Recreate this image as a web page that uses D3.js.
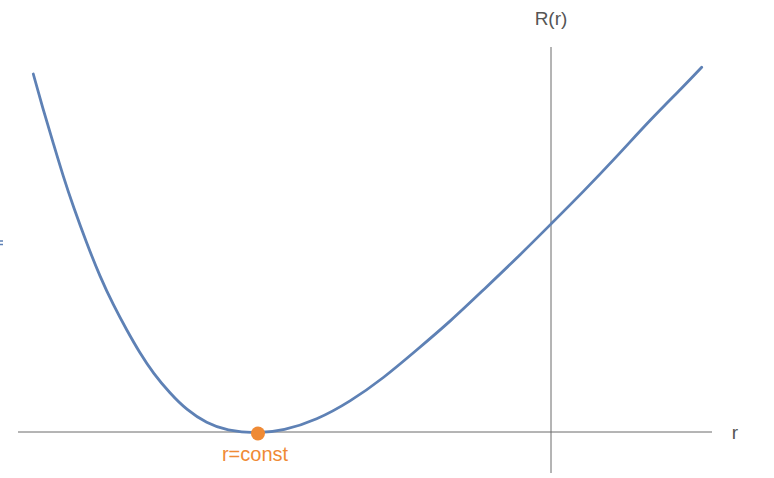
<!DOCTYPE html>
<meta charset="utf-8">
<title>R(r)</title>
<style>
  body { margin: 0; background: #fff; }
  text { font-family: "Liberation Sans", Arial, sans-serif; }
</style>
<body>
<svg width="774" height="478"></svg>
<script src="https://d3js.org/d3.v7.min.js"></script>
<script>

// curve samples (r, R)
var rVals = [-5.177, -5.077, -4.977, -4.877, -4.777, -4.643, -4.51, -4.377, -4.243, -4.11,
  -3.977, -3.81, -3.643, -3.443, -3.243, -2.94, -2.677, -2.343, -2.01, -1.677,
  -1.343, -1.01, -0.677, -0.343, 0.007, 0.323, 0.657, 0.99, 1.323, 1.507];
var RVals = [3.58, 3.22, 2.887, 2.553, 2.253, 1.887, 1.553, 1.27, 1.02, 0.787,
  0.587, 0.387, 0.22, 0.087, 0.013, -0.015, 0.013, 0.12, 0.303, 0.537,
  0.82, 1.103, 1.42, 1.737, 2.087, 2.403, 2.753, 3.12, 3.453, 3.647];

var minPoint = [-2.94, -0.015];
var xLabel = "r", yLabel = "R(r)", pointLabel = "r=const";

var svg = d3.select("svg");

var x = d3.scaleLinear().domain([-5.33, 1.61]).range([18, 712]);
var y = d3.scaleLinear().domain([-0.41, 3.85]).range([473, 47]);

var pts = rVals.map(function(d, i) { return [d, RVals[i]]; });

// axes (plain lines, no ticks)
svg.append("line")
  .attr("x1", x(-5.33)).attr("x2", x(1.61))
  .attr("y1", y(0)).attr("y2", y(0))
  .attr("stroke", "#6a6a6a").attr("stroke-width", 1);
svg.append("line")
  .attr("x1", x(0)).attr("x2", x(0))
  .attr("y1", y(-0.41)).attr("y2", y(3.85))
  .attr("stroke", "#6a6a6a").attr("stroke-width", 1);

svg.append("text")
  .attr("x", 735).attr("y", y(0) + 7)
  .attr("text-anchor", "middle")
  .attr("font-size", 19).attr("fill", "#555")
  .text(xLabel);
svg.append("text")
  .attr("x", x(0)).attr("y", 25)
  .attr("text-anchor", "middle")
  .attr("font-size", 19).attr("fill", "#555")
  .text(yLabel);

// little clipped marks on the left edge
svg.append("g").selectAll("line")
  .data([241, 244.5])
  .enter().append("line")
  .attr("x1", 0).attr("x2", 3)
  .attr("y1", function(d) { return d; }).attr("y2", function(d) { return d; })
  .attr("stroke", "#5e81b5").attr("stroke-width", 1.5);

var line = d3.line()
  .x(function(d) { return x(d[0]); })
  .y(function(d) { return y(d[1]); })
  .curve(d3.curveBasis);

svg.append("path")
  .datum(pts)
  .attr("d", line)
  .attr("fill", "none")
  .attr("stroke", "#5e81b5")
  .attr("stroke-width", 2.8)
  .attr("stroke-linecap", "round");

svg.append("circle")
  .attr("cx", x(minPoint[0]) + 1).attr("cy", y(minPoint[1]))
  .attr("r", 7)
  .attr("fill", "#ef8a35");

svg.append("text")
  .attr("x", x(minPoint[0]) - 2).attr("y", 461)
  .attr("text-anchor", "middle")
  .attr("font-size", 20).attr("fill", "#ef8a35")
  .text(pointLabel);

</script>
</body>
